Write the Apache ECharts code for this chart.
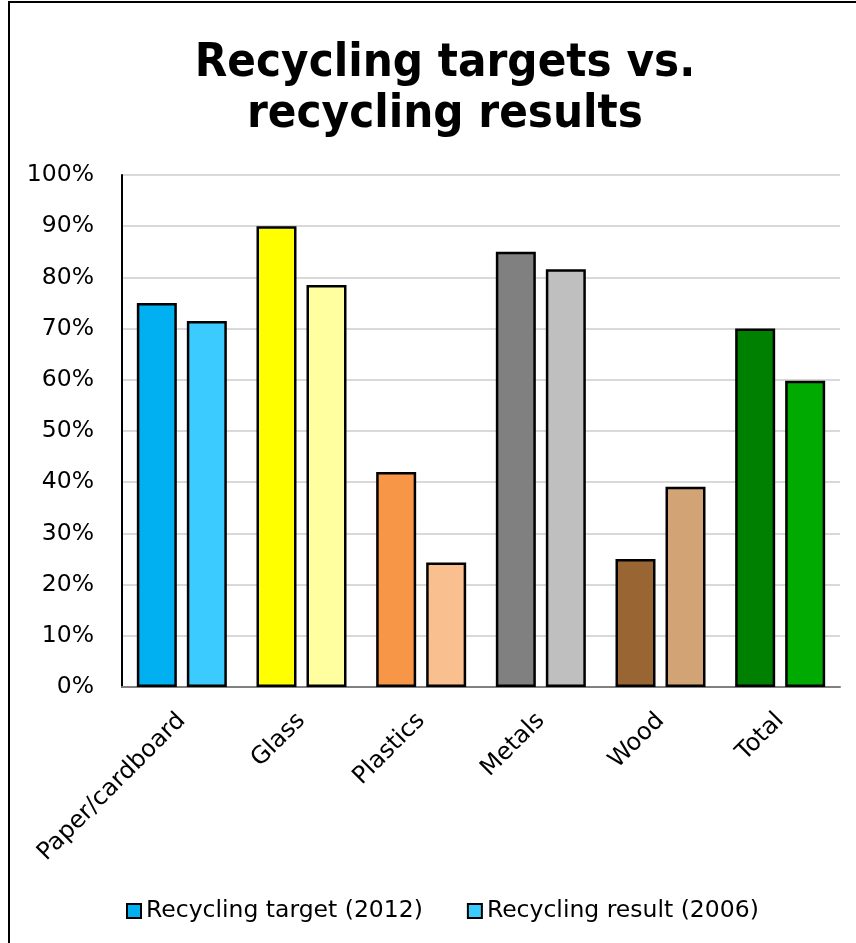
<!DOCTYPE html>
<html>
<head>
<meta charset="utf-8">
<script src="https://cdn.jsdelivr.net/npm/echarts@6/dist/echarts.min.js"></script>
<style>
html,body{margin:0;padding:0;background:#fff;}
#chart{width:856px;height:943px;}
</style>
</head>
<body>
<div id="chart"></div>
<script>
const categories = ['Paper/cardboard', 'Glass', 'Plastics', 'Metals', 'Wood', 'Total'];
const targetValues = [75, 90, 42, 85, 25, 70];
const resultValues = [71.5, 78.5, 24.3, 81.6, 39.1, 59.8];
const yTickLabels = ['0%', '10%', '20%', '30%', '40%', '50%', '60%', '70%', '80%', '90%', '100%'];
const seriesNames = ['Recycling target (2012)', 'Recycling result (2006)'];
const targetColors = ['#00B0F0', '#FFFF00', '#F79646', '#808080', '#996633', '#008000'];
const resultColors = ['#3CCBFF', '#FFFF9F', '#FABF8F', '#BFBFBF', '#D2A374', '#00AA00'];

const FONT = 'DejaVu Sans';
const chart = echarts.init(document.getElementById('chart'), null, {renderer: 'canvas'});

function mkData(vals, cols) {
  return vals.map((v, i) => ({value: v, itemStyle: {color: cols[i]}}));
}

chart.setOption({
  animation: false,
  backgroundColor: '#fff',
  textStyle: {fontFamily: FONT, color: '#000'},
  graphic: [{
    type: 'rect',
    shape: {x: 9, y: 2, width: 900, height: 1000},
    style: {fill: 'none', stroke: '#000', lineWidth: 2},
    silent: true, z: -1
  }],
  title: {
    text: 'Recycling targets vs.\nrecycling results',
    left: 440, top: 33, textAlign: 'center',
    textStyle: {fontFamily: 'DejaVu Sans Condensed', fontWeight: 'bold', fontSize: 47, lineHeight: 51, color: '#000'}
  },
  legend: {
    left: 121, top: 894,
    itemWidth: 14, itemHeight: 14, itemGap: 44,
    icon: 'rect',
    textStyle: {fontFamily: FONT, fontSize: 23.5, color: '#000'},
    data: seriesNames
  },
  grid: {left: 122, right: 16, top: 175, bottom: 256, containLabel: false},
  xAxis: {
    type: 'category',
    data: categories,
    axisLine: {show: true, lineStyle: {color: '#808080', width: 2}},
    axisTick: {show: false},
    axisLabel: {rotate: 45, margin: 30, fontFamily: FONT, fontSize: 24, color: '#000', interval: 0}
  },
  yAxis: {
    type: 'value', min: 0, max: 100, interval: 10,
    axisLine: {show: true, lineStyle: {color: '#000', width: 2}},
    axisTick: {show: false},
    splitLine: {lineStyle: {color: '#D9D9D9', width: 2}},
    axisLabel: {
      margin: 28, fontFamily: FONT, fontSize: 23.5, color: '#000',
      formatter: v => yTickLabels[Math.round(v / 10)]
    }
  },
  series: [
    {
      name: seriesNames[0], type: 'bar', barWidth: 40, barGap: '25%',
      itemStyle: {color: targetColors[0], borderColor: '#000', borderWidth: 2.5},
      data: mkData(targetValues, targetColors)
    },
    {
      name: seriesNames[1], type: 'bar', barWidth: 40, barGap: '25%',
      itemStyle: {color: resultColors[0], borderColor: '#000', borderWidth: 2.5},
      data: mkData(resultValues, resultColors)
    }
  ]
});
</script>
</body>
</html>
